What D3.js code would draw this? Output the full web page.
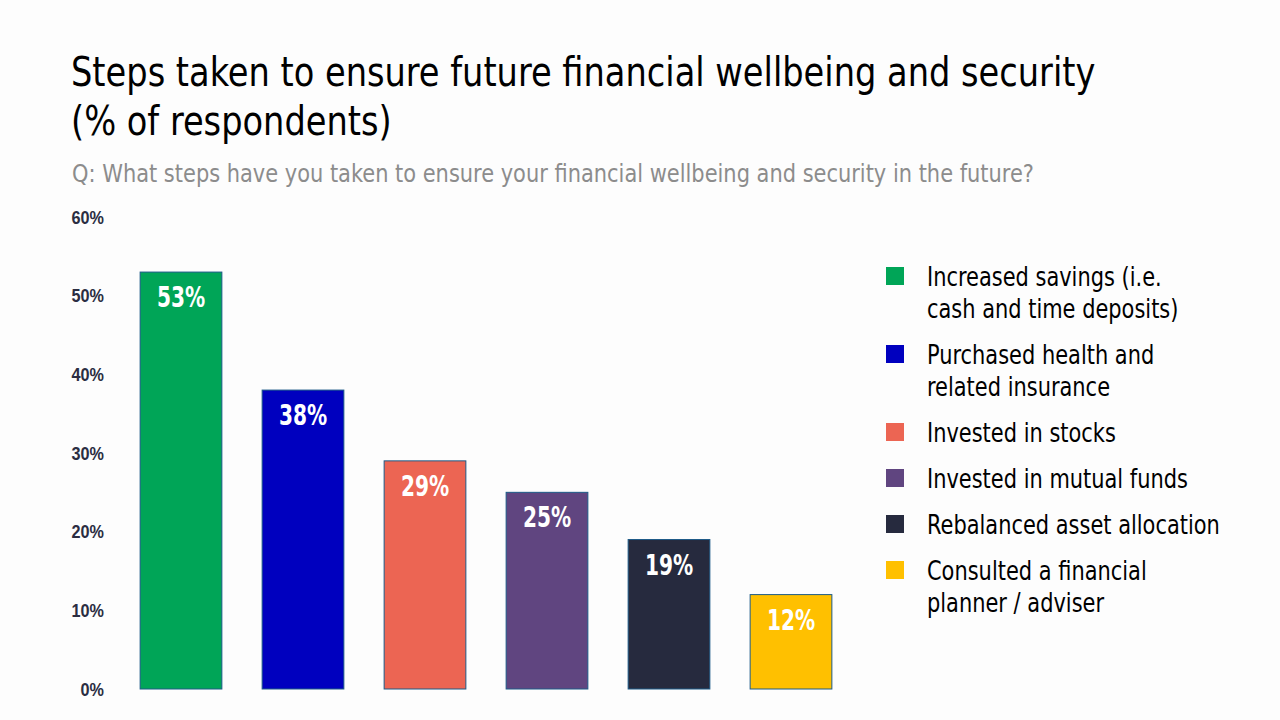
<!DOCTYPE html>
<html><head><meta charset="utf-8">
<script src="https://cdn.jsdelivr.net/npm/d3@7"></script>
<style>
html,body{margin:0;padding:0;background:#fdfdfd;}
svg{display:block;font-family:"Liberation Sans Narrow","DejaVu Sans Condensed","Arial Narrow",sans-serif;}
</style></head>
<body>
<svg id="chart" width="1280" height="720"></svg>
<script>
const categories = [
  "Increased savings (i.e. cash and time deposits)",
  "Purchased health and related insurance",
  "Invested in stocks",
  "Invested in mutual funds",
  "Rebalanced asset allocation",
  "Consulted a financial planner / adviser"
];
const legendLines = [
  ["Increased savings (i.e.", "cash and time deposits)"],
  ["Purchased health and", "related insurance"],
  ["Invested in stocks"],
  ["Invested in mutual funds"],
  ["Rebalanced asset allocation"],
  ["Consulted a financial", "planner / adviser"]
];
const values = [53, 38, 29, 25, 19, 12];
const colors = ["#00a557", "#0000bf", "#ec6553", "#604580", "#262a3e", "#ffc000"];
const yTicks = [0, 10, 20, 30, 40, 50, 60];
const titleLines = ["Steps taken to ensure future financial wellbeing and security", "(% of respondents)"];
const subtitle = "Q: What steps have you taken to ensure your financial wellbeing and security in the future?";

// horizontally compress text to mimic the narrow typeface
function squeeze(sel, f) {
  sel.each(function() {
    const w = this.getComputedTextLength();
    d3.select(this).attr("textLength", w * f).attr("lengthAdjust", "spacingAndGlyphs");
  });
}

const svg = d3.select("#chart");
svg.append("rect").attr("width",1280).attr("height",720).attr("fill","#fdfdfd");

// Title
const tt = svg.append("g").selectAll("text").data(titleLines).join("text")
  .attr("x", 71).attr("y", (d,i) => 86 + i*49)
  .attr("font-size", 40).attr("fill", "#000").text(d => d);
squeeze(tt, 0.935);
const st = svg.append("text").attr("x", 72).attr("y", 182)
  .attr("font-size", 24).attr("fill", "#8c8c8c").text(subtitle);
squeeze(st, 0.97);

const y = d3.scaleLinear().domain([0, 60]).range([689, 217]);
const x = d3.scaleBand().domain(categories).range([120, 852]).paddingInner(0.33).paddingOuter(0.165);

// Y axis
const yAxis = d3.axisLeft(y).tickValues(yTicks).tickFormat(d => d + "%").tickSize(0).tickPadding(0);
const ga = svg.append("g").attr("transform", "translate(104,0)").call(yAxis);
ga.select(".domain").remove();
ga.selectAll("text").attr("font-size", 18).attr("font-weight", "bold").attr("fill", "#2b2d42")
  .attr("font-family", "inherit").attr("dy", "0.35em");
squeeze(ga.selectAll("text"), 0.9);

// Bars
const bars = svg.append("g");
bars.selectAll("rect").data(values).join("rect")
  .attr("x", (d,i) => x(categories[i]))
  .attr("y", d => y(d))
  .attr("width", x.bandwidth())
  .attr("height", d => y(0) - y(d))
  .attr("fill", (d,i) => colors[i])
  .attr("stroke", "#1c5a87").attr("stroke-width", 1);

const bl = bars.selectAll("text").data(values).join("text")
  .attr("x", (d,i) => x(categories[i]) + x.bandwidth()/2)
  .attr("y", d => y(d) + 35)
  .attr("text-anchor", "middle")
  .attr("font-size", 28).attr("font-weight", "bold").attr("fill", "#fff")
  .text(d => d + "%");
squeeze(bl, 0.8);

// Legend
const legendY = [];
let cy = 277;
legendLines.forEach((l) => { legendY.push(cy); cy += (l.length - 1) * 32 + 46; });
const lg = svg.append("g");
const items = lg.selectAll("g").data(legendLines).join("g")
  .attr("transform", (d,i) => `translate(0,${legendY[i]})`);
items.append("rect").attr("x", 886).attr("y", -10).attr("width", 18).attr("height", 18)
  .attr("fill", (d,i) => colors[i]);
const lt = items.append("text").attr("x", 927).attr("font-size", 26).attr("fill", "#000")
  .selectAll("tspan").data(d => d).join("tspan")
  .attr("x", 927).attr("y", (d,i) => 9 + i*32).text(d => d);
squeeze(lt, 0.895);
</script>
</body></html>
